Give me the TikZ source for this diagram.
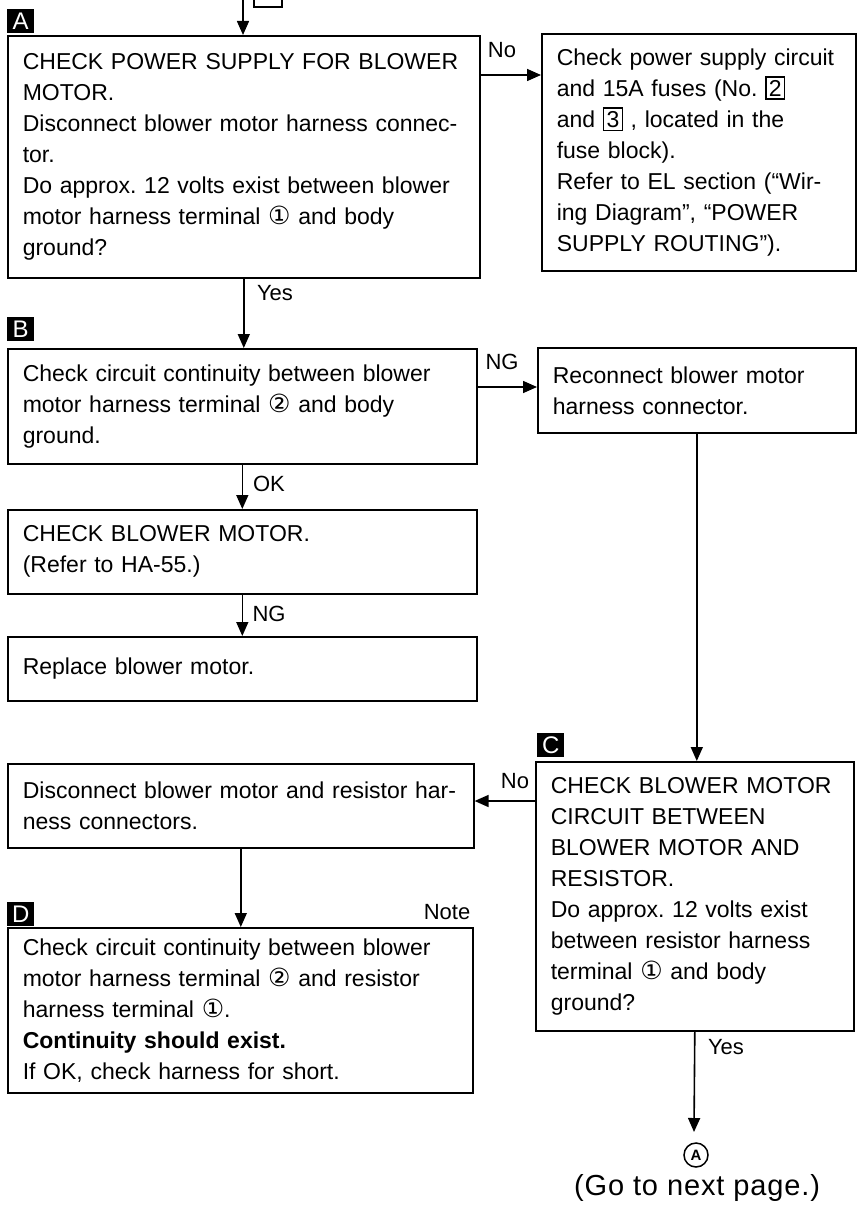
\documentclass[tikz,border=0pt]{standalone}
\usepackage{fontspec}
\setmainfont{Liberation Sans}
\newfontfamily\symfont{DejaVu Sans}
\usetikzlibrary{arrows.meta}
\newcommand\cd[1]{{\symfont\fontsize{25}{31}\selectfont #1}}
\newcommand\bxd[1]{{\fboxsep=2.2pt\fboxrule=1.5pt\fbox{#1}}}
\frenchspacing
\begin{document}
\begin{tikzpicture}[x=1pt,y=-1pt,
  every node/.style={font=\fontsize{23}{31}\selectfont},
  box/.style={draw, line width=1.6pt, anchor=north west, inner xsep=15pt, inner ysep=0pt, align=left},
  lab/.style={fill=black, text=white, minimum width=27pt, minimum height=24pt, inner sep=0pt, anchor=north west, font=\fontsize{24}{24}\selectfont},
  tag/.style={font=\fontsize{22}{22}\selectfont, inner sep=0pt},
  arr/.style={line width=1.6pt, -{Triangle[length=14pt,width=12pt]}},
]
\useasboundingbox (0,0) rectangle (861,1209);
\clip (0,0) rectangle (861,1209);
% top incoming
\node[draw, line width=1.6pt, minimum width=28pt, minimum height=26pt, anchor=north west] (pg) at (253,-20) {};
\coordinate (in) at (243,-5);
% labels
\node[lab] (LA) at (7,9) {A};
\node[lab] (LB) at (7,317) {B};
\node[lab] (LC) at (537,733) {C};
\node[lab] (LD) at (7,902) {D};
% boxes
\node[box, minimum width=472pt, minimum height=242pt, text width=442pt] (A) at (7,35)
 {CHECK POWER SUPPLY FOR BLOWER\\MOTOR.\\Disconnect blower motor harness connec-\\tor.\\Do approx. 12 volts exist between blower\\motor harness terminal \cd{①} and body\\ground?};
\node[box, minimum width=314pt, minimum height=237pt, text width=284pt] (R1) at (541,33)
 {Check power supply circuit\\and 15A fuses (No. \bxd{2}\\and \bxd{3} , located in the\\fuse block).\\Refer to EL section (“Wir-\\ing Diagram”, “POWER\\SUPPLY ROUTING”).};
\node[box, minimum width=469pt, minimum height=115pt, text width=439pt] (B) at (7,348)
 {Check circuit continuity between blower\\motor harness terminal \cd{②} and body\\ground.};
\node[box, minimum width=318pt, minimum height=85pt, text width=288pt] (R2) at (537,347)
 {Reconnect blower motor\\harness connector.};
\node[box, minimum width=469pt, minimum height=84pt, text width=439pt] (E3) at (7,509)
 {CHECK BLOWER MOTOR.\\(Refer to HA-55.)};
\node[box, minimum width=469pt, minimum height=64pt, text width=439pt] (E4) at (7,636)
 {Replace blower motor.};
\node[box, minimum width=466pt, minimum height=84pt, text width=436pt] (E5) at (7,763)
 {Disconnect blower motor and resistor har-\\ness connectors.};
\node[box, minimum width=318pt, minimum height=269pt, text width=288pt] (C) at (535,761)
 {CHECK BLOWER MOTOR\\CIRCUIT BETWEEN\\BLOWER MOTOR AND\\RESISTOR.\\Do approx. 12 volts exist\\between resistor harness\\terminal \cd{①} and body\\ground?};
\node[box, minimum width=465pt, minimum height=165pt, text width=435pt] (D) at (7,927)
 {Check circuit continuity between blower\\motor harness terminal \cd{②} and resistor\\harness terminal \cd{①}.\\\textbf{Continuity should exist.}\\If OK, check harness for short.};
\node[circle, draw, line width=1.5pt, minimum size=24pt, inner sep=0pt, font=\fontsize{15}{15}\selectfont\bfseries] (goA) at (696,1155) {A};
\node[font=\fontsize{29}{29}\selectfont\addfontfeature{LetterSpace=3}] (go) at (697,1188) {(Go to next page.)};
\coordinate (cend) at (694,1132);
% connectors
\draw[arr] (in) -- (in |- A.north);
\path (A.north east) ++(0,40) coordinate (a1);
\draw[arr] (a1) -- (a1 -| R1.west);
\node[tag] (tNo1) at (502,50) {No};
\draw[arr] (A.south) -- (A.south |- B.north);
\node[tag] (tYes1) at (275,293) {Yes};
\path (B.north east) ++(0,39) coordinate (b1);
\draw[arr] (b1) -- (b1 -| R2.west);
\node[tag] (tNG1) at (502,362) {NG};
\draw[arr] (B.south) -- (B.south |- E3.north);
\node[tag] (tOK) at (269,484) {OK};
\draw[arr] (E3.south) -- (E3.south |- E4.north);
\node[tag] (tNG2) at (269,614) {NG};
\draw[arr] (R2.south) -- (R2.south |- C.north);
\path (C.north west) ++(0,40) coordinate (c1);
\draw[arr] (c1) -- (c1 -| E5.east);
\node[tag] (tNo2) at (515,781) {No};
\draw[arr] (E5.south) -- (E5.south |- D.north);
\node[tag] (tNote) at (447,912) {Note};
\draw[arr] (C.south) -- (cend);
\node[tag] (tYes2) at (726,1047) {Yes};
\end{tikzpicture}
\end{document}
